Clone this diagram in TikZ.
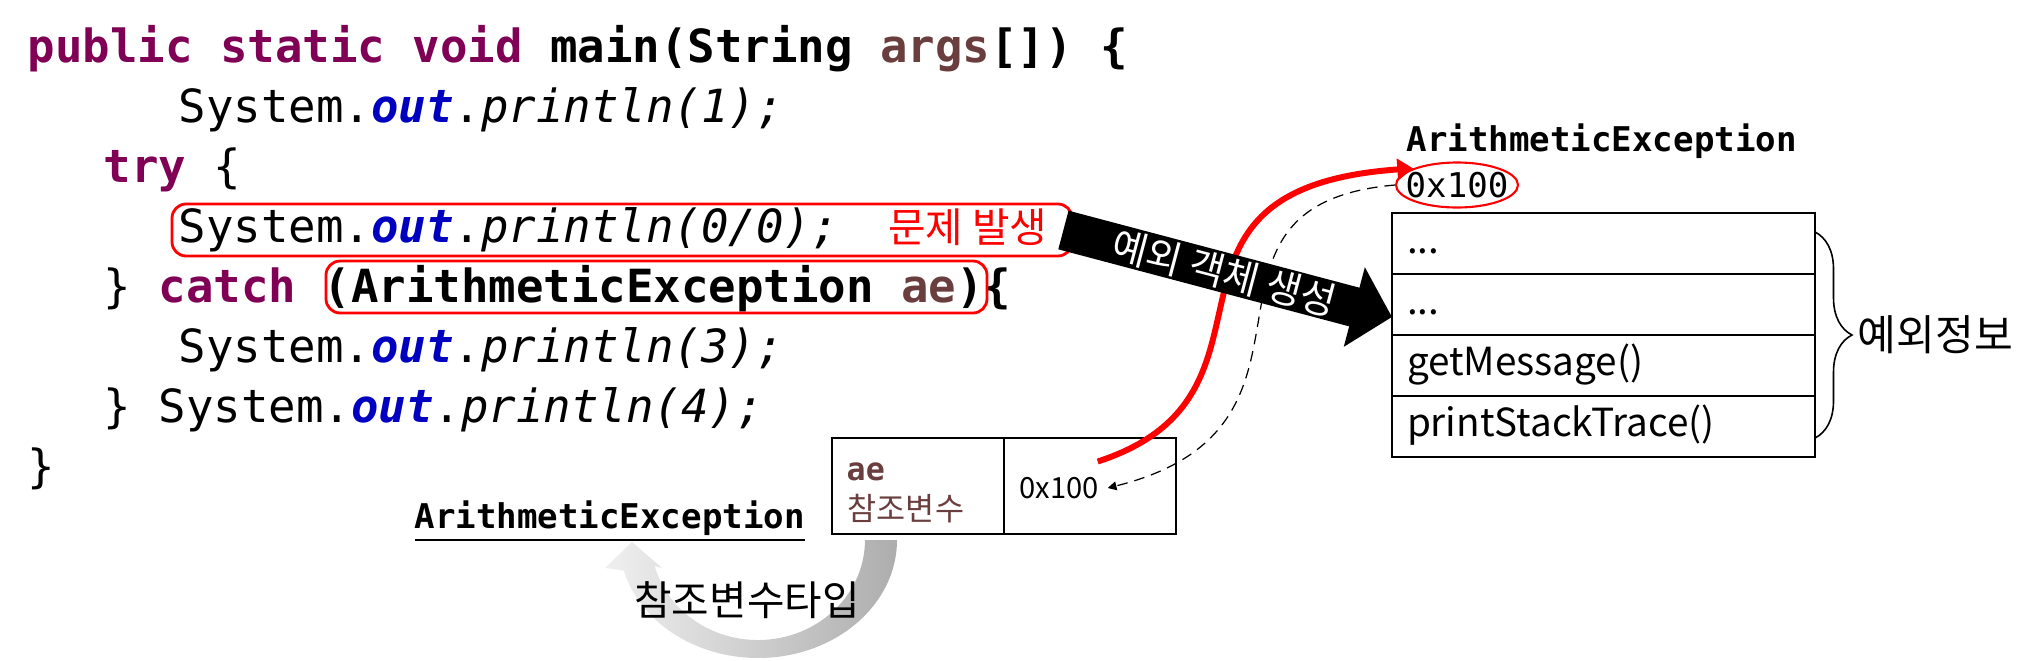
\documentclass[tikz,border=0pt]{standalone}
\usepackage{fontspec}
\setmonofont{DejaVu Sans Mono}
\newfontfamily\kr{Noto Sans CJK KR}
\usepackage{xcolor}
\usetikzlibrary{shapes.geometric, arrows.meta, positioning, calc, decorations.pathreplacing}

\definecolor{kwpurple}{HTML}{7F0055}
\definecolor{varbrown}{HTML}{6A3E3E}
\definecolor{fldblue}{HTML}{0000C0}
\newcommand{\kw}[1]{\textcolor{kwpurple}{\bfseries #1}}
\newcommand{\fld}[1]{\textcolor{fldblue}{\bfseries\itshape #1}}
\newcommand{\vname}[1]{\textcolor{varbrown}{#1}}
\newcommand{\mcall}[1]{\textit{#1}}

\begin{document}
\begin{tikzpicture}[
  code/.style={font=\fontsize{13pt}{15pt}\selectfont\ttfamily, anchor=base west, inner sep=0},
  lbl/.style={font=\fontsize{9.7pt}{11pt}\selectfont\ttfamily\bfseries, inner sep=0},
  kor/.style={font=\kr\fontsize{11.6pt}{13pt}\selectfont, inner sep=0},
  redbox/.style={draw=red, line width=0.8pt, rounded corners=4pt, inner sep=0},
  row/.style={draw, line width=0.7pt, minimum height=0.61cm, text width=3.93cm,
              inner xsep=0.15cm, inner ysep=0, outer sep=0, align=left,
              font=\kr\fontsize{11pt}{14pt}\selectfont, execute at begin node=\strut},
  cell/.style={draw, line width=0.6pt, minimum width=1.72cm, minimum height=0.96cm,
               inner sep=0, outer sep=0},
  redarr/.style={red, line width=1.7pt, -{Triangle[length=4.5pt,width=6pt]}},
  dasharr/.style={densely dashed, line width=0.35pt, -{Triangle[length=2.5pt,width=2.5pt]}},
  fatarr/.style={line width=0.40cm, -{Triangle[length=0.39cm,width=0.80cm]}},
  brc/.style={decorate, decoration={brace, amplitude=0.37cm}, line width=0.45pt}
]
  \useasboundingbox (0,0) rectangle (20.32,-6.61);

  % grey curved arrow (reference type)
  \shade[left color=black!6, right color=black!32]
    (8.97,-5.40) arc[start angle=0, end angle=-165, x radius=1.39cm, y radius=1.18cm]
    -- (6.05,-5.68) -- (6.32,-5.42) -- (6.62,-5.68) -- (6.546,-5.659)
    arc[start angle=-165, end angle=0, x radius=1.07cm, y radius=1cm] -- cycle;
  \node[kor] (typelbl) at (7.47,-6.00) {참조변수타입};

  % source code
  \node[code] (l1) at (0.27,-0.62) {\bfseries\kw{public static void} main(String \vname{args}[]) \{};
  \node[code] (l2) at (1.78,-1.22) {System.\fld{out}.\mcall{println(1);}};
  \node[code] (l3) at (1.03,-1.82) {\kw{try} \{};
  \node[code] (l4) at (1.78,-2.42) {System.\fld{out}.\mcall{println(0/0);}};
  \node[code] (l5) at (1.03,-3.02) {\} \kw{catch} {\bfseries(ArithmeticException \vname{ae})\{}};
  \node[code] (l6) at (1.78,-3.62) {System.\fld{out}.\mcall{println(3);}};
  \node[code] (l7) at (1.03,-4.22) {\} System.\fld{out}.\mcall{println(4);}};
  \node[code] (l8) at (0.27,-4.82) {\}};
  \node[kor, red, anchor=base west] (issue) at ([xshift=0.48cm]l4.base east) {문제 발생};

  % red highlight boxes
  \node[redbox, minimum width=9.00cm, minimum height=0.52cm] (errbox) at (6.22,-2.30) {};
  \node[redbox, minimum width=6.61cm, minimum height=0.52cm] (catchbox) at (6.565,-2.87) {};

  % exception object
  \node[lbl, anchor=base west] (extype) at (14.06,-1.51) {ArithmeticException};
  \node[lbl, font=\fontsize{9.7pt}{11pt}\selectfont\ttfamily] (objaddr) at (14.57,-1.85) {0x100};
  \node[draw=red, ellipse, line width=0.6pt, minimum width=1.22cm, minimum height=0.45cm,
        inner sep=0] (ring) at (objaddr) {};
  \node[row] (r1) at (16.035,-2.435) {...};
  \node[row, below=0pt of r1] (r2) {...};
  \node[row, below=0pt of r2] (r3) {getMessage()};
  \node[row, below=0pt of r3] (r4) {printStackTrace()};
  \draw[brc] ([yshift=-0.19cm]r1.north east) --
        node[kor, font=\kr\fontsize{12pt}{14pt}\selectfont, right=0.42cm] (info) {예외정보}
        ([yshift=0.19cm]r4.south east);

  % reference variable
  \node[cell] (aecell) at (9.18,-4.86) {};
  \node[cell, right=0pt of aecell] (valcell) {};
  \node[lbl, font=\fontsize{9pt}{10pt}\selectfont\ttfamily\bfseries, text=varbrown,
        anchor=base west] (aevar) at (8.46,-4.80) {ae};
  \node[kor, font=\kr\fontsize{9pt}{10pt}\selectfont, text=varbrown,
        anchor=base west] (aekind) at (8.47,-5.20) {참조변수};
  \node[kor, font=\kr\fontsize{8.3pt}{10pt}\selectfont, inner sep=0.08cm,
        anchor=west] (aeaddr) at (10.11,-4.88) {0x100};
  \node[lbl, anchor=base west] (reftype) at (4.14,-5.28) {\underline{ArithmeticException}};

  % references between variable and object
  \draw[redarr] ([shift={(-0.1,0.07)}]aeaddr.north east) to[out=18, in=184, out looseness=1.3, in looseness=1.73]
        (ring.north west);
  \draw[dasharr] (ring.west) to[out=185, in=14, out looseness=1.42, in looseness=1.56]
        (aeaddr.east);

  % object creation
  \draw[fatarr] ([xshift=-0.1cm]errbox.east) --
        node[pos=0.49, sloped, kor, font=\kr\fontsize{11pt}{13pt}\selectfont, text=white] (mk) {예외 객체 생성}
        ([yshift=-0.125cm]r2.west);
\end{tikzpicture}
\end{document}
